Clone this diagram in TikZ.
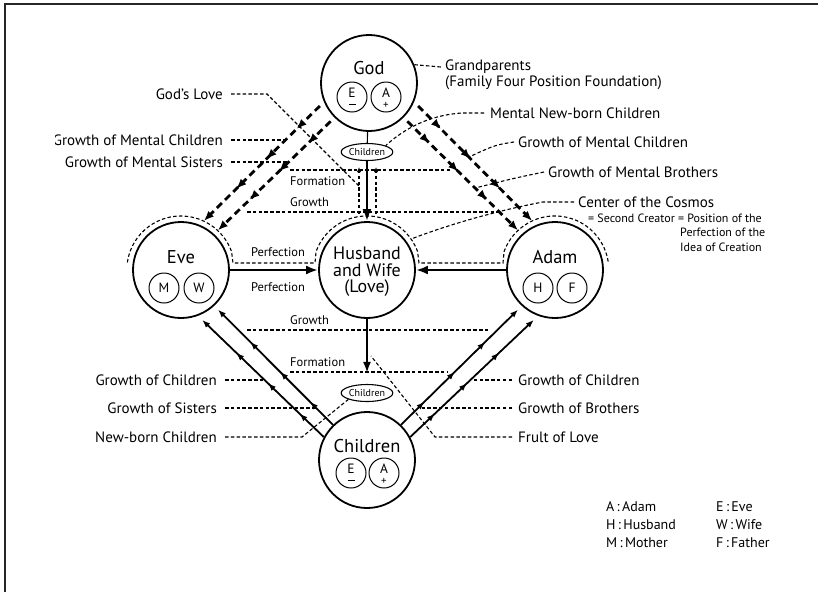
\documentclass[tikz,border=0pt]{standalone}
\usepackage{fontspec}
\setmainfont{PT Sans}
\usetikzlibrary{arrows.meta,decorations.markings,shapes.geometric}
\begin{document}
\begin{tikzpicture}[x=1pt,y=-1pt,
  bigc/.style={circle,draw,line width=1.8pt,minimum size=96pt,inner sep=0pt},
  outc/.style={circle,minimum size=108pt,inner sep=0pt},
  ctxt/.style={font=\fontsize{18.5}{18}\selectfont,inner sep=0pt},
  smc/.style={circle,draw,line width=1pt,minimum size=30pt,inner sep=0pt,font=\fontsize{13.5}{13}\selectfont},
  smt/.style={inner sep=0pt,font=\fontsize{13.5}{13}\selectfont},
  sgn/.style={inner sep=0pt,font=\fontsize{11}{11}\selectfont},
  ell/.style={ellipse,draw,line width=1.1pt,minimum width=50pt,minimum height=17pt,inner sep=0.2pt,font=\fontsize{10}{10}\selectfont},
  lbl/.style={font=\fontsize{15}{16}\selectfont,inner sep=0pt},
  lgd/.style={font=\fontsize{14}{15}\selectfont,inner sep=0pt,anchor=west},
  stagel/.style={font=\fontsize{12.5}{13}\selectfont,inner sep=0pt},
  dotl/.style={line width=1.1pt,dash pattern=on 3.5pt off 2.3pt},
  bigdash/.style={line width=2.8pt,dash pattern=on 7pt off 4.5pt,-{Latex[length=10pt,width=8pt]},
     postaction={decorate},decoration={markings,
       mark=at position 0.2 with {\arrow{Latex[length=10pt,width=8pt]}},
       mark=at position 0.46 with {\arrow{Latex[length=10pt,width=8pt]}},
       mark=at position 0.72 with {\arrow{Latex[length=10pt,width=8pt]}}}},
  solarr/.style={line width=1.8pt,-{Latex[length=8pt,width=6pt]},
     postaction={decorate},decoration={markings,
       mark=at position 0.2 with {\arrow{Latex[length=8pt,width=6pt]}},
       mark=at position 0.46 with {\arrow{Latex[length=8pt,width=6pt]}},
       mark=at position 0.72 with {\arrow{Latex[length=8pt,width=6pt]}}}},
  bigarr/.style={line width=2.5pt,-{Latex[length=12pt,width=9pt]}},
  tinytip/.style={-{Latex[length=5pt,width=4.5pt]}}
]
\useasboundingbox (0,0) rectangle (818,592);
\draw[line width=2pt,black!85] (5,592) -- (5,4) -- (818,4);

\begin{scope}
\clip (55,8) rectangle (818,547);

% main circles
\node[bigc] (god) at (369,83) {};
\node[outc] (godo) at (369,83) {};
\node[ctxt] (godt) at (369,68) {God};
\node[smc] (gode) at (352,97) {};
\node[smt] (godet) at (352,93) {E};
\draw[line width=1.3pt] (348.5,104.5) -- (355.5,104.5);
\node[smc] (goda) at (386,97) {};
\node[smt] (godat) at (386,93) {A};
\node[sgn] (godas) at (386,105.5) {+};

\node[bigc] (eve) at (181,270) {};
\node[outc] (eveo) at (181,270) {};
\node[ctxt] (evet) at (181,257) {Eve};
\node[smc] (evem) at (164,288) {M};
\node[smc] (evew) at (199,288) {W};

\node[bigc] (hw) at (367,270) {};
\node[outc] (hwo) at (367,270) {};
\node[ctxt,align=center,font=\fontsize{18}{16.5}\selectfont] (hwt) at (367,272) {Husband\\and Wife\\(Love)};

\node[bigc] (adam) at (555,270) {};
\node[outc] (adamo) at (555,270) {};
\node[ctxt] (adamt) at (555,257) {Adam};
\node[smc] (adamh) at (538,288) {H};
\node[smc] (adamf) at (572,288) {F};

\node[bigc] (chc) at (367,460) {};
\node[ctxt] (chct) at (367,446) {Children};
\node[smc] (chce) at (351,473) {};
\node[smt] (chcet) at (351,469) {E};
\draw[line width=1.3pt] (347.5,480.5) -- (354.5,480.5);
\node[smc] (chca) at (384,473) {};
\node[smt] (chcat) at (384,469) {A};
\node[sgn] (chcas) at (384,481.5) {+};

\node[ell] (cet) at (367,152) {Children};
\node[ell] (ceb) at (367,393) {Children};

% dotted outline (center of the cosmos)
\draw[dotl] (eveo.172) arc[start angle=172,end angle=20,radius=54pt] -- (233,263) -- (315,263)
  -- (hwo.160) arc[start angle=160,end angle=20,radius=54pt] -- (419,263) -- (503,263)
  -- (adamo.160) arc[start angle=160,end angle=8,radius=54pt];

% stage lines
\draw[dotl] (290,170) -- (450,170);
\draw[dotl] (247,212) -- (500,212);
\draw[dotl] (247,330) -- (488,330);
\draw[dotl] (290,372) -- (447,372);
\node[stagel,anchor=west] (sf1) at (290,181) {Formation};
\node[stagel,anchor=west] (sg1) at (290,202) {Growth};
\node[stagel,anchor=west] (sg2) at (290,320) {Growth};
\node[stagel,anchor=west] (sf2) at (290,362) {Formation};
\draw[dotl,tinytip] (359,214) -- (359,167);
\draw[dotl,tinytip] (376,214) -- (376,167);

% vertical connectors
\draw[line width=1.1pt] (god) -- (cet);
\draw[bigarr] (cet) -- (hw);
\draw[line width=2.2pt,-{Latex[length=11pt,width=8pt]},shorten >=11pt] (hw) -- (ceb);

% perfection arrows
\draw[bigarr] (eve) -- (hw);
\draw[bigarr] (adam) -- (hw);
\node[stagel] (p1) at (278,252) {Perfection};
\node[stagel] (p2) at (278,287) {Perfection};

% mental (dashed) arrows
\draw[bigdash] (godo.205) -- (eveo.65);
\draw[bigdash] (godo.225) -- (eveo.47);
\draw[bigdash] (godo.335) -- (adamo.115);
\draw[bigdash] (godo.315) -- (adamo.133);

% physical (solid) arrows
\draw[solarr] (chc.152) -- (eveo.293);
\draw[solarr] (chc.134) -- (eveo.313);
\draw[solarr] (chc.46) -- (adamo.227);
\draw[solarr] (chc.28) -- (adamo.247);

% left labels
\node[lbl,anchor=east] (glove) at (223,94) {God's Love};
\node[lbl,anchor=east] (gmcl) at (223,140) {Growth of Mental Children};
\node[lbl,anchor=east] (gms) at (223,162) {Growth of Mental Sisters};
\node[lbl,anchor=east] (gcl) at (217,380) {Growth of Children};
\node[lbl,anchor=east] (gsl) at (217,408) {Growth of Sisters};
\node[lbl,anchor=east] (nbc) at (217,437) {New-born Children};

\draw[dotl] ([xshift=8pt]glove.east) -- (267,94) -- (359,186);
\draw[dotl] ([xshift=8pt]gmcl.east) -- (285,140);
\draw[dotl] ([xshift=8pt]gms.east) -- (289,162);
\draw[dotl] ([xshift=8pt]gcl.east) -- (265,380);
\draw[dotl] ([xshift=8pt]gsl.east) -- (316,408);
\draw[dotl] ([xshift=8pt]nbc.east) -- (302,437) -- (ceb.south west);

% right labels
\node[lbl,anchor=west] (grand) at (445,67) {Grandparents};
\node[lbl,anchor=west] (fam) at (445,83) {(Family Four Position Foundation)};
\node[lbl,anchor=west] (mnb) at (490,113) {Mental New-born Children};
\node[lbl,anchor=west] (gmcr) at (518,142) {Growth of Mental Children};
\node[lbl,anchor=west] (gmb) at (548,172) {Growth of Mental Brothers};
\node[lbl,anchor=west] (coc) at (578,202) {Center of the Cosmos};
\node[stagel,anchor=west,font=\fontsize{12}{13}\selectfont] (sc1) at (588,218) {= Second Creator = Position of the};
\node[stagel,anchor=west,font=\fontsize{12}{13}\selectfont] (sc2) at (680,232) {Perfection of the};
\node[stagel,anchor=west,font=\fontsize{12}{13}\selectfont] (sc3) at (680,247) {Idea of Creation};
\node[lbl,anchor=west] (gcr) at (518,380) {Growth of Children};
\node[lbl,anchor=west] (gbr) at (518,408) {Growth of Brothers};
\node[lbl,anchor=west] (fol) at (518,437) {Frult of Love};

\draw[dotl] (god.22) -- ([xshift=-4pt]grand.west);
\draw[dotl] ([xshift=-6pt]mnb.west) -- (462,113) .. controls (430,115) and (405,128) .. (cet.north east);
\draw[dotl] ([xshift=-4pt]gmcr.west) .. controls (495,145) .. (469,157);
\draw[dotl] ([xshift=-4pt]gmb.west) .. controls (515,178) .. (475,188);
\draw[dotl] ([xshift=-4pt]coc.west) -- (543,202) .. controls (500,210) and (450,224) .. (hwo.35);
\draw[dotl] ([xshift=-6pt]gcr.west) -- (470,380);
\draw[dotl] ([xshift=-6pt]gbr.west) -- (418,408);
\draw[dotl] ([xshift=-6pt]fol.west) -- (435,437) -- (371,356);

% legend
\node[lgd] (la) at (606,507) {A\,:\,Adam};
\node[lgd] (le) at (716,507) {E\,:\,Eve};
\node[lgd] (lh) at (606,525) {H\,:\,Husband};
\node[lgd] (lw) at (716,525) {W\,:\,Wife};
\node[lgd] (lm) at (606,543) {M\,:\,Mother};
\node[lgd] (lf) at (716,543) {F\,:\,Father};
\end{scope}
\end{tikzpicture}
\end{document}
